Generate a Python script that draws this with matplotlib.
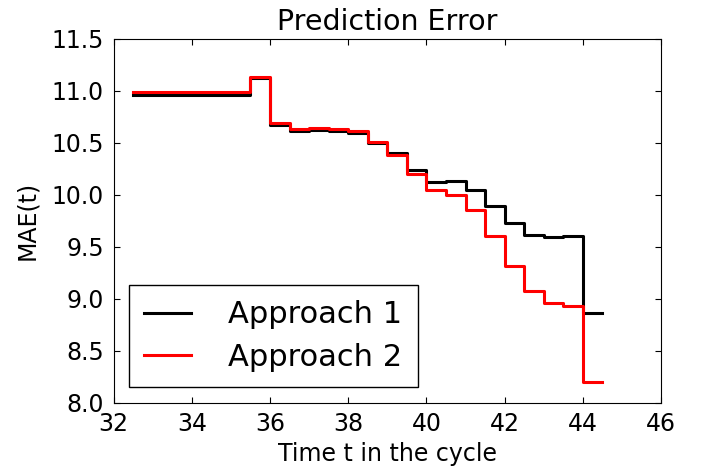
import matplotlib
matplotlib.use("Agg")
import matplotlib.pyplot as plt

# time points (step edges) and MAE for the two approaches
t = [32.5, 35.5, 36.0, 36.5, 37.0, 37.5, 38.0, 38.5, 39.0, 39.5, 40.0,
     40.5, 41.0, 41.5, 42.0, 42.5, 43.0, 43.5, 44.0, 44.5]
mae_1 = [10.96, 11.12, 10.67, 10.61, 10.62, 10.61, 10.59, 10.50, 10.40, 10.24, 10.125,
         10.135, 10.04, 9.89, 9.73, 9.61, 9.59, 9.60, 8.865, 8.865]
mae_2 = [10.99, 11.13, 10.69, 10.63, 10.64, 10.63, 10.61, 10.51, 10.38, 10.20, 10.045,
         9.995, 9.85, 9.60, 9.31, 9.07, 8.96, 8.93, 8.20, 8.20]
labels = ["Approach 1", "Approach 2"]

plt.rcParams["font.family"] = "DejaVu Sans"
plt.rcParams["xtick.direction"] = "in"
plt.rcParams["ytick.direction"] = "in"
plt.rcParams["xtick.top"] = True
plt.rcParams["ytick.right"] = True
plt.rcParams["xtick.major.size"] = 4
plt.rcParams["ytick.major.size"] = 4
plt.rcParams["xtick.major.pad"] = 7
plt.rcParams["ytick.major.pad"] = 7

fig = plt.figure(figsize=(7.01, 4.71), dpi=100)
ax = fig.add_axes([0.162, 0.145, 0.781, 0.773])

ax.step(t, mae_1, where="post", color="k", lw=2.2, label=labels[0])
ax.step(t, mae_2, where="post", color="r", lw=2.2, label=labels[1])

ax.set_xlim(32, 46)
ax.set_ylim(8.0, 11.5)
ax.set_xticks([32, 34, 36, 38, 40, 42, 44, 46])
ax.set_yticks([8.0, 8.5, 9.0, 9.5, 10.0, 10.5, 11.0, 11.5])
ax.set_yticklabels(["8.0", "8.5", "9.0", "9.5", "10.0", "10.5", "11.0", "11.5"])
ax.tick_params(labelsize=17)

ax.set_title("Prediction Error", fontsize=20.5)
ax.set_xlabel("Time t in the cycle", fontsize=17)
ax.set_ylabel("MAE(t)", fontsize=17, labelpad=9)

leg = ax.legend(loc="lower left", fontsize=22, fancybox=False, framealpha=1,
                edgecolor="k", handlelength=1.55, handletextpad=1.2,
                borderaxespad=0.5, borderpad=0.5, labelspacing=0.45)
leg.get_frame().set_linewidth(1.0)

fig.savefig("out.png", dpi=100)
